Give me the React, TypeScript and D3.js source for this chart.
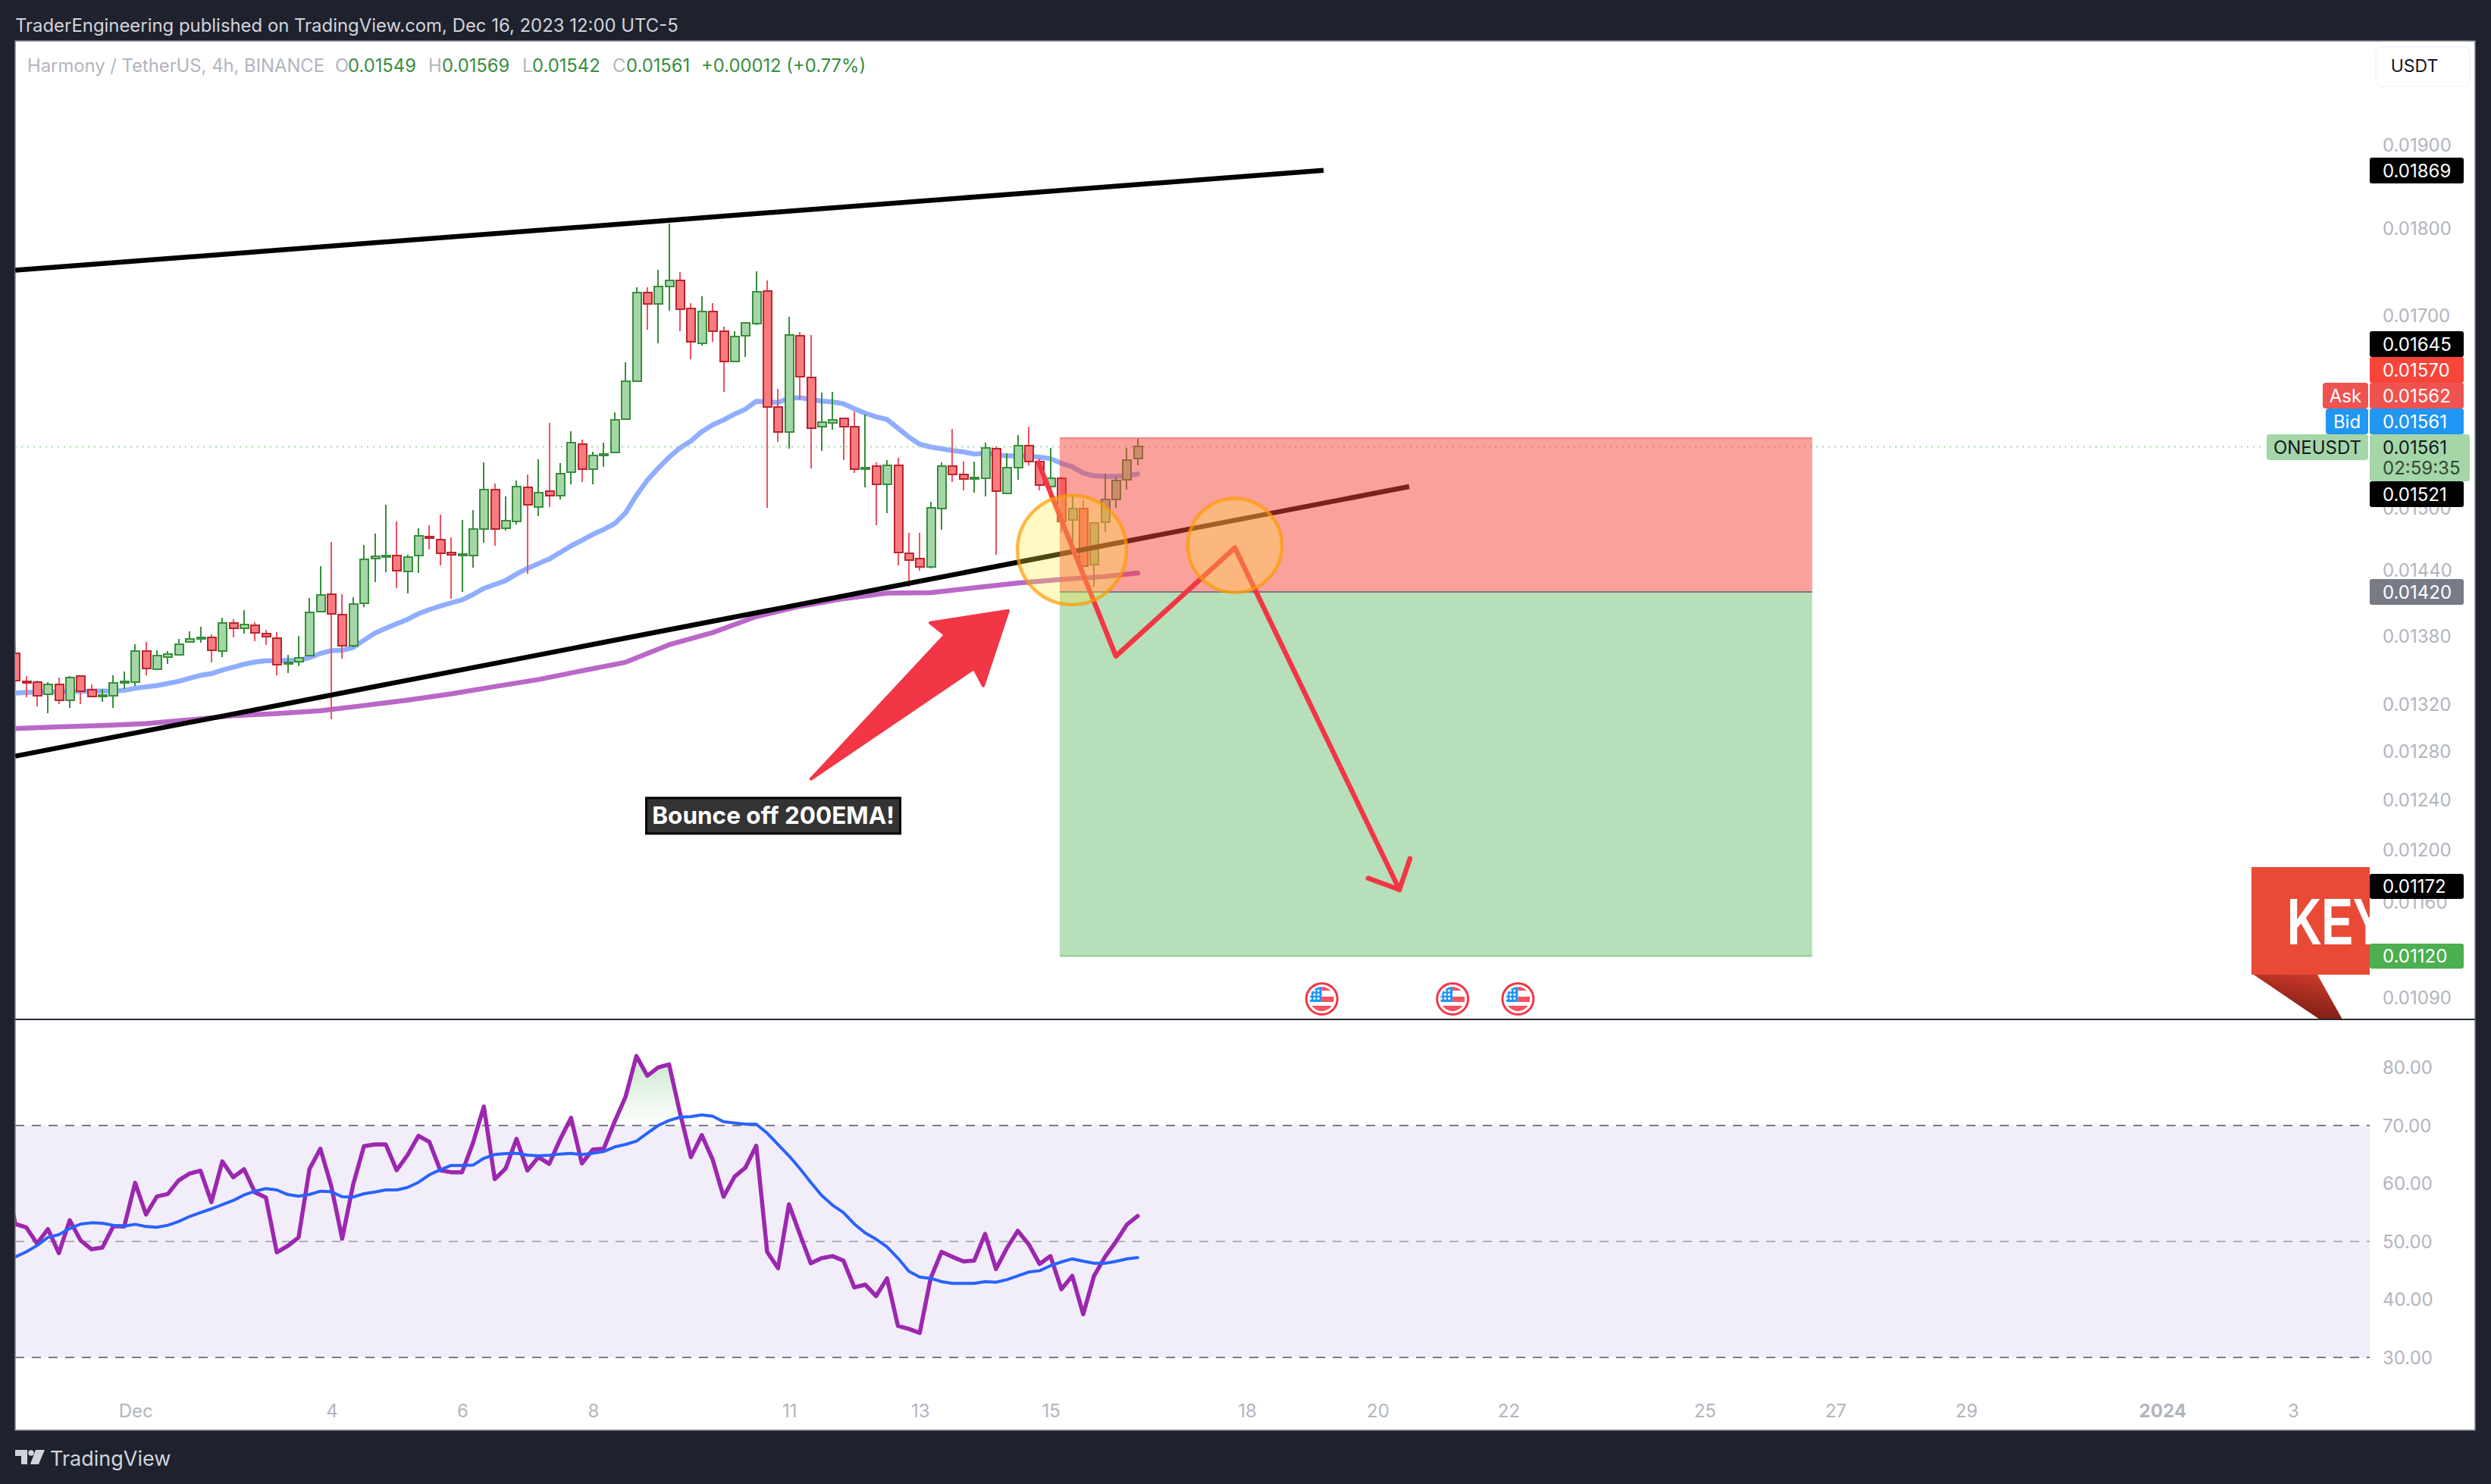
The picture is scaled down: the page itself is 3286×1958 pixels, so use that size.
import React from "react";
import * as d3 from "d3";

// ---------- data (prices in micro-USDT, bar index 0 = Dec 4 00:00, 4h bars) ----------
const FIRST_BAR = -29;
const opens = [13642,13397,13388,13285,13369,13234,13440,13321,13273,13273,13391,13391,13661,13504,13612,13633,13748,13773,13789,13667,13918,13865,13893,13817,13777,13547,13572,13624,14016,14176,13993,13708,14093,14515,14534,14538,14393,14538,14724,14696,14567,14547,14544,14797,15178,14804,14871,15199,15010,15161,15123,15355,15639,15386,15530,15549,15895,16293,17258,17133,17331,17395,17079,16700,17046,16827,16501,16783,16914,17276,16016,15762,16777,16327,15817,15856,15898,15811,15388,15412,15234,15420,14561,14510,14436,14994,15412,15328,15293,15293,15593,15145,15398,15618,15456,15210,15291,14886,14992,14452,14857,15079,15274,15490];
const highs = [13704,13443,13403,13388,13427,13443,13449,13369,13330,13449,13483,13723,13745,13670,13664,13773,13839,13880,13814,13965,13949,14032,13921,13855,13833,13630,13799,14144,14442,14670,14180,14151,14643,14750,15030,14868,14547,14801,14828,14935,14713,14881,14979,15453,15240,15113,15271,15330,15484,15854,15446,15766,15681,15562,15653,15965,16492,17322,17322,17518,18052,17494,17142,17218,17142,16881,16830,16932,17500,17398,16209,16989,16821,16788,16169,16178,15909,15971,15939,15451,15475,15500,14758,14758,15060,15453,15792,15461,15461,15651,15615,15544,15731,15814,15489,15601,15309,15121,15076,14862,15339,15309,15596,15690];
const lows = [13400,13255,13178,13121,13199,13166,13199,13261,13219,13166,13330,13357,13449,13498,13547,13633,13739,13736,13566,13609,13783,13821,13751,13717,13449,13467,13529,13618,14013,13067,13596,13695,14061,14289,14387,14234,14186,14377,14597,14449,14138,14199,14426,14666,14636,14777,14838,14367,14918,15010,15082,15230,15257,15230,15407,15544,15884,16293,16851,16700,17055,16833,16524,16671,16718,16181,16495,16547,16896,15004,15659,15588,16101,15393,15566,15786,15478,15342,15204,14828,14951,14451,14249,14400,14421,14784,15258,15174,15153,15115,14551,15142,15274,15418,15169,15190,14756,14655,14440,14250,14764,15002,15182,15420];
const closes = [13406,13388,13273,13369,13234,13427,13312,13267,13276,13385,13397,13661,13510,13621,13639,13726,13770,13789,13673,13918,13865,13899,13824,13795,13544,13566,13605,14010,14170,14000,13714,14087,14508,14531,14541,14400,14528,14727,14713,14564,14551,14554,14791,15178,14797,14878,15206,15027,15147,15120,15334,15649,15386,15520,15537,15889,16287,17258,17133,17325,17395,17076,16715,17046,16830,16498,16771,16920,17268,16022,15762,16786,16339,15800,15862,15889,15817,15385,15396,15234,15420,14571,14500,14436,14999,15412,15331,15285,15298,15596,15166,15398,15618,15461,15226,15291,14869,14992,14444,14852,15081,15269,15478,15610];

// EMA 50, one reading per bar, from FIRST_BAR
const ema50 = [13294,13300,13303,13306,13306,13309,13309,13312,13312,13312,13318,13336,13348,13360,13378,13397,13424,13449,13464,13495,13520,13547,13566,13578,13578,13581,13581,13605,13642,13667,13670,13695,13761,13824,13868,13908,13949,14000,14038,14070,14099,14128,14176,14234,14269,14305,14367,14420,14465,14508,14570,14633,14686,14743,14790,14846,14951,15123,15272,15393,15503,15598,15667,15764,15834,15884,15945,15996,16079,16073,16067,16110,16116,16101,16081,16073,16053,16002,15954,15917,15889,15800,15709,15634,15607,15590,15571,15557,15535,15544,15530,15516,15516,15516,15503,15489,15442,15407,15344,15317,15312,15312,15317,15334];
// EMA 200, read at these bars
const ema200Bars = [-29,-25,-21,-17,-13,-9,-5,-1,3,7,11,15,19,23,27,31,35,39,43,47,51,55,59,63,67,71,74];
const ema200 = [12991,13005,13017,13032,13064,13100,13118,13142,13187,13234,13288,13351,13412,13489,13564,13720,13829,13974,14068,14138,14189,14194,14239,14283,14316,14344,14377];

// RSI from bar -30, RSI MA from bar -29
const rsiFirstBar = -30;
const rsi = [62.81,53.01,52.44,49.65,52.14,48.0,53.66,50.17,48.65,48.95,52.66,52.57,60.11,54.66,57.76,58.19,60.54,61.72,62.2,56.8,63.81,61.07,62.46,58.45,57.58,48.13,49.22,50.7,62.5,65.99,59.54,50.48,59.76,66.43,66.73,66.73,62.29,64.9,68.21,67.17,62.29,61.94,61.94,66.95,73.27,60.76,62.59,67.69,62.24,64.55,63.38,67.6,71.31,63.46,65.86,65.99,70.65,74.92,81.98,78.58,80.02,80.54,72.18,64.55,68.34,64.12,57.71,61.15,62.72,66.51,48.21,45.38,56.41,51.26,46.25,47.12,47.47,46.69,42.07,42.55,40.59,43.64,35.45,34.92,34.23,43.64,48.21,47.34,46.56,46.69,51.31,45.25,48.87,51.83,49.52,46.12,47.47,41.76,44.07,37.45,44.07,47.34,49.96,52.88,54.4];
const rsiMa = [47.34,48.21,49.3,50.7,51.18,52.22,53.01,53.22,53.14,52.79,52.66,52.96,52.57,52.44,52.79,53.44,54.31,54.97,55.62,56.36,57.06,58.02,58.67,59.11,58.89,58.1,57.8,58.1,58.67,58.58,57.71,57.67,58.24,58.54,58.89,58.89,59.32,60.2,61.5,62.37,63.12,63.12,63.16,64.34,64.99,65.16,65.21,64.9,64.77,64.86,65.08,65.21,64.99,65.21,65.51,66.3,66.73,67.3,68.69,70.0,70.87,71.44,71.53,71.83,71.61,70.65,70.44,70.22,70.22,68.69,66.73,64.77,62.59,60.2,57.93,56.27,54.97,53.01,51.48,50.39,49.08,47.12,44.86,43.86,43.64,43.07,42.77,42.77,42.77,43.07,42.98,43.42,44.07,44.73,44.95,45.82,46.47,47.0,46.6,46.25,46.25,46.56,47.0,47.21];

// axes
const priceTicks = [0.019,0.018,0.017,0.015,0.0144,0.0138,0.0132,0.0128,0.0124,0.012,0.0116,0.0109];
const rsiTicks = [80,70,60,50,40,30];
const dateTicks = [["Dec",-18],["4",0],["6",12],["8",24],["11",42],["13",54],["15",66],["18",84],["20",96],["22",108],["25",126],["27",138],["29",150],["2024",168],["3",180]];

// drawings, [bar, micro-price]
const upperChannel = [[-29,17513],[91.06,18690]];
const lowerChannel = [[-29,12759],[98.92,15210]];
const zigzag = [[64.9,15447],[72,13618],[82.92,14615],[98.02,11696]];
const arrowBarbs = [[98.99,11935],[98.02,11696],[95.16,11783]];
const bigArrow = [[62.12,14028],[59.83,13358],[58.99,13511],[44.03,12571],[56.35,13808],[54.96,13917]];
const circleCentres = [[67.97,14594],[82.92,14637]];
const positionBars = [66.85,135.9];
const positionLevels = [15700,14200,11200];
const eventBars = [90.9,102.9,108.9];
const noteAnchor = [40.56,12276];

// ---------- layout ----------
const W = 3286, H = 1958;
const L = 20, R = 3265, T = 54, B = 1887, AX = 3126, SEP = 1345;
const DARK = "#1E222D", TICK = "#B2B5BE";
const GREEN_BORDER = "#388E3C", GREEN_FILL = "#A5D6A7";
const RED_BORDER = "#B9252F", RED_FILL = "#F77C80", RED_WICK = "#F2525F";
const F = "Inter, 'Noto Sans', sans-serif";

const x = d3.scaleLinear().domain([0, 100]).range([437, 437 + 1437.5]);
const y = d3.scaleLog().domain([19000, 10900]).range([191.5, 1316.5]);
const yRsi = d3.scaleLinear().domain([30, 70]).range([1791, 1485]);

const xy = d3.line<number[]>().x(d => x(d[0])).y(d => y(d[1]));
const perBar = (vals: number[], first: number) => vals.map((v, i) => [first + i, v]);
const rsiLine = d3.line<number[]>().x(d => x(d[0])).y(d => yRsi(d[1]));
const rsiPts = perBar(rsi, rsiFirstBar);
const rsiMaPts = perBar(rsiMa, FIRST_BAR);
const rsiArea = d3.area<number[]>().x(d => x(d[0])).y0(yRsi(70)).y1(d => yRsi(d[1]));

const fmt = (p: number) => (p < 1 ? p.toFixed(5) : p.toFixed(2));

function Candles() {
  const w = 11;
  return (
    <g shapeRendering="crispEdges">
      {opens.map((o, i) => {
        const c = closes[i], cx = Math.round(x(FIRST_BAR + i));
        const up = c >= o;
        const top = y(Math.max(o, c)), bot = y(Math.min(o, c));
        return (
          <g key={i}>
            <line x1={cx} x2={cx} y1={y(highs[i])} y2={y(lows[i])} stroke={up ? GREEN_BORDER : RED_WICK} strokeWidth={2} />
            <rect x={cx - w / 2} y={top} width={w} height={Math.max(bot - top, 2)}
              fill={up ? GREEN_FILL : RED_FILL} stroke={up ? GREEN_BORDER : RED_BORDER} strokeWidth={2} />
          </g>
        );
      })}
    </g>
  );
}

function EventFlag({ bar, id }: { bar: number; id: string }) {
  const cx = x(bar), cy = 1318, r = 16;
  const stars: number[][] = [];
  for (let row = 0; row < 3; row++) for (let col = 0; col < 3; col++) stars.push([cx - 15 + col * 5.2, cy - 11 + row * 5.2]);
  return (
    <g>
      <circle cx={cx} cy={cy} r={20.5} fill="#fff" stroke="#F23645" strokeWidth={3} />
      <clipPath id={id}><circle cx={cx} cy={cy} r={r} /></clipPath>
      <g clipPath={`url(#${id})`}>
        <rect x={cx - r} y={cy - r} width={2 * r} height={2 * r} fill="#fff" />
        <rect x={cx} y={cy - r} width={r} height={5} fill="#F7525F" />
        <rect x={cx} y={cy - 3} width={r} height={7} fill="#F7525F" />
        <rect x={cx - r} y={cy + 9} width={2 * r} height={7} fill="#F7525F" />
        <rect x={cx - r} y={cy - r} width={r} height={20} fill="#2196F3" />
        {stars.map((s, i) => <circle key={i} cx={s[0]} cy={s[1]} r={1.6} fill="#fff" />)}
      </g>
    </g>
  );
}

function PriceBox({ y0, h, fill, text, color = "#fff", right = 3250 }: any) {
  return (
    <g>
      <rect x={AX} y={y0} width={right - AX} height={h} rx={3} fill={fill} />
      <text x={3143} y={y0 + h / 2} dy="0.36em" fontSize={24} fill={color} fontFamily={F}>{text}</text>
    </g>
  );
}

function SideTag({ x0, y0, fill, text, color = "#fff" }: any) {
  return (
    <g>
      <rect x={x0} y={y0} width={3124 - x0} height={34} rx={4} fill={fill} />
      <text x={(x0 + 3124) / 2} y={y0 + 17} dy="0.36em" textAnchor="middle" fontSize={24} fill={color} fontFamily={F}>{text}</text>
    </g>
  );
}

export default function App() {
  const entryY = y(positionLevels[1]);
  const boxX = x(positionBars[0]);
  const boxW = x(positionBars[1]) - boxX;
  const legend = "#B2B5BE", lg = "#388E3C";
  return (
    <svg width={W} height={H} viewBox={`0 0 ${W} ${H}`} style={{ position: "fixed", left: 0, top: 0, display: "block" }}>
      <defs>
        <clipPath id="pane"><rect x={L} y={T} width={AX - L} height={SEP - T} /></clipPath>
        <clipPath id="above70"><rect x={L} y={T} width={AX - L} height={yRsi(70) - T} /></clipPath>
        <clipPath id="rsiPane"><rect x={L} y={SEP} width={AX - L} height={B - SEP} /></clipPath>
        <clipPath id="keyClip"><rect x={2970} y={1100} width={AX - 2970} height={260} /></clipPath>
        <linearGradient id="ob" gradientUnits="userSpaceOnUse" x1="0" x2="0" y1={yRsi(82)} y2={yRsi(70)}>
          <stop offset="0" stopColor="#4CAF50" stopOpacity={0.3} />
          <stop offset="1" stopColor="#4CAF50" stopOpacity={0} />
        </linearGradient>
        <linearGradient id="tail" x1="0.2" x2="0.6" y1="1" y2="0">
          <stop offset="0" stopColor="#6E1610" />
          <stop offset="1" stopColor="#C93A2A" />
        </linearGradient>
      </defs>

      <rect width={W} height={H} fill={DARK} />
      <rect x={L} y={T} width={R - L} height={B - T} fill="#fff" stroke="#80838E" strokeWidth={1.5} />

      <text x={20} y={33} dy="0.36em" fontSize={23.9} fill="#D1D4DC" fontFamily={F}>TraderEngineering published on TradingView.com, Dec 16, 2023 12:00 UTC-5</text>

      {/* main pane */}
      <g clipPath="url(#pane)">
        <path d={xy(perBar(ema50, FIRST_BAR))!} fill="none" stroke="#90AEFF" strokeWidth={6.5} strokeLinecap="round" strokeLinejoin="round" />
        <path d={xy(ema200Bars.map((b, i) => [b, ema200[i]]))!} fill="none" stroke="#BA68C8" strokeWidth={6.5} strokeLinecap="round" strokeLinejoin="round" />
        <line x1={L} x2={2985} y1={y(15610)} y2={y(15610)} stroke="#A5D6A7" strokeWidth={2} strokeDasharray="2 6" />
        <Candles />
        <path d={xy(upperChannel)!} fill="none" stroke="#000" strokeWidth={6.5} />
        <path d={xy(lowerChannel)!} fill="none" stroke="#000" strokeWidth={6.5} />

        {/* short position box */}
        <rect x={boxX} y={y(positionLevels[0])} width={boxW} height={entryY - y(positionLevels[0])} fill="#F44336" fillOpacity={0.5} />
        <rect x={boxX} y={entryY} width={boxW} height={y(positionLevels[2]) - entryY} fill="#4CAF50" fillOpacity={0.4} />
        <line x1={boxX} x2={boxX + boxW} y1={y(positionLevels[0])} y2={y(positionLevels[0])} stroke="#F44336" strokeOpacity={0.5} strokeWidth={2} />
        <line x1={boxX} x2={boxX + boxW} y1={entryY} y2={entryY} stroke="#787B86" strokeWidth={2} />
        <line x1={boxX} x2={boxX + boxW} y1={y(positionLevels[2])} y2={y(positionLevels[2])} stroke="#4CAF50" strokeOpacity={0.5} strokeWidth={2} />

        {/* hand-drawn path */}
        <path d={xy(zigzag)!} fill="none" stroke="#F23645" strokeWidth={6.5} strokeLinejoin="round" strokeLinecap="round" />
        <path d={xy(arrowBarbs)!} fill="none" stroke="#F23645" strokeWidth={6.5} strokeLinejoin="round" strokeLinecap="round" />

        {/* circles */}
        <circle cx={x(circleCentres[0][0])} cy={y(circleCentres[0][1])} r={72} fill="#FFEB3B" fillOpacity={0.3} stroke="#FF9800" strokeOpacity={0.7} strokeWidth={4.5} />
        <circle cx={x(circleCentres[1][0])} cy={y(circleCentres[1][1])} r={62} fill="#FFEB3B" fillOpacity={0.3} stroke="#FF9800" strokeOpacity={0.7} strokeWidth={4.5} />

        {/* big arrow */}
        <path d={xy(bigArrow)! + "Z"} fill="#F23645" stroke="#F23645" strokeWidth={4} strokeLinejoin="round" />

        {eventBars.map((b, i) => <EventFlag key={i} bar={b} id={`flag${i}`} />)}
      </g>

      {/* note */}
      <g>
        <rect x={x(noteAnchor[0]) - 167.5} y={y(noteAnchor[1]) - 23} width={335} height={47} fill="#333" stroke="#000" strokeWidth={3} />
        <text x={x(noteAnchor[0])} y={y(noteAnchor[1])} dy="0.36em" textAnchor="middle" fontSize={31.5} fontWeight={700} fill="#fff" fontFamily={F}>Bounce off 200EMA!</text>
      </g>

      {/* legend */}
      <g fontFamily={F} fontSize={23.8}>
        <text x={36} y={86} dy="0.36em" fill={legend}>Harmony / TetherUS, 4h, BINANCE</text>
        <text x={442} y={86} dy="0.36em" fill={legend}>O</text>
        <text x={459} y={86} dy="0.36em" fill={lg}>0.01549</text>
        <text x={565} y={86} dy="0.36em" fill={legend}>H</text>
        <text x={583} y={86} dy="0.36em" fill={lg}>0.01569</text>
        <text x={689} y={86} dy="0.36em" fill={legend}>L</text>
        <text x={702} y={86} dy="0.36em" fill={lg}>0.01542</text>
        <text x={808} y={86} dy="0.36em" fill={legend}>C</text>
        <text x={826} y={86} dy="0.36em" fill={lg}>0.01561</text>
        <text x={925} y={86} dy="0.36em" fill={lg}>+0.00012 (+0.77%)</text>
      </g>

      {/* USDT button */}
      <rect x={3134} y={62} width={124} height={52} rx={8} fill="#fff" stroke="#F0F3FA" strokeWidth={1.5} />
      <text x={3185} y={87} dy="0.36em" textAnchor="middle" fontSize={23} fill="#131722" fontFamily={F}>USDT</text>

      {/* price axis */}
      <g fontFamily={F} fontSize={24} fill={TICK}>
        {priceTicks.map(t => <text key={t} x={3143} y={y(t * 1e6)} dy="0.36em">{fmt(t)}</text>)}
      </g>

      {/* KEY banner */}
      <g clipPath="url(#keyClip)">
        <polygon points="2973,1286 3057,1286 3090,1345 3060,1345" fill="url(#tail)" />
        <rect x={2970} y={1144} width={AX - 2970} height={142} fill="#E94A36" />
        <text transform="translate(3017,1246) scale(0.72,1)" fontFamily="'Liberation Sans', Arial, sans-serif" fontWeight={700} fontSize={87} fill="#fff">KEY</text>
      </g>

      {/* price labels */}
      <PriceBox y0={208} h={34} fill="#000" text="0.01869" />
      <PriceBox y0={437} h={34} fill="#000" text="0.01645" />
      <PriceBox y0={471} h={34} fill="#F74639" text="0.01570" />
      <PriceBox y0={505} h={34} fill="#EF5350" text="0.01562" />
      <PriceBox y0={539} h={34} fill="#2196F3" text="0.01561" />
      <SideTag x0={3064} y0={505} fill="#EF5350" text="Ask" />
      <SideTag x0={3068} y0={539} fill="#2196F3" text="Bid" />
      <SideTag x0={2990} y0={573} fill="#A5D6A7" text="ONEUSDT" color="#131722" />
      <g>
        <rect x={AX} y={573} width={132} height={62} rx={4} fill="#A5D6A7" />
        <text x={3143} y={590} dy="0.36em" fontSize={24} fill="#131722" fontFamily={F}>0.01561</text>
        <text x={3143} y={617} dy="0.36em" fontSize={24} fill="#2F4A33" fontFamily={F}>02:59:35</text>
      </g>
      <PriceBox y0={635} h={34} fill="#000" text="0.01521" />
      <PriceBox y0={764} h={34} fill="#787B86" text="0.01420" />
      <PriceBox y0={1153} h={33} fill="#000" text="0.01172" />
      <PriceBox y0={1245} h={33} fill="#4CAF50" text="0.01120" />

      {/* separator */}
      <line x1={L} x2={R} y1={SEP} y2={SEP} stroke="#2A2E39" strokeWidth={2} />

      {/* RSI pane */}
      <rect x={L} y={yRsi(70)} width={AX - L} height={yRsi(30) - yRsi(70)} fill="#7E57C2" fillOpacity={0.1} />
      <g stroke="#787B86" strokeWidth={2} strokeDasharray="12 10">
        <line x1={L} x2={AX} y1={yRsi(70)} y2={yRsi(70)} />
        <line x1={L} x2={AX} y1={yRsi(50)} y2={yRsi(50)} strokeOpacity={0.55} />
        <line x1={L} x2={AX} y1={yRsi(30)} y2={yRsi(30)} />
      </g>
      <g clipPath="url(#above70)">
        <path d={rsiArea(rsiPts)!} fill="url(#ob)" />
      </g>
      <g clipPath="url(#rsiPane)">
        <path d={rsiLine(rsiPts)!} fill="none" stroke="#9C27B0" strokeWidth={5.5} strokeLinejoin="round" strokeLinecap="round" />
        <path d={rsiLine(rsiMaPts)!} fill="none" stroke="#2962FF" strokeWidth={4} strokeLinejoin="round" strokeLinecap="round" />
      </g>
      <g fontFamily={F} fontSize={24} fill={TICK}>
        {rsiTicks.map(t => <text key={t} x={3143} y={yRsi(t)} dy="0.36em">{t.toFixed(2)}</text>)}
      </g>

      {/* time axis */}
      <g fontFamily={F} fontSize={24} fill={TICK} textAnchor="middle">
        {dateTicks.map(([label, bar]) => (
          <text key={label as string} x={x(bar as number) + 1} y={1861} dy="0.36em" fontWeight={label === "2024" ? 700 : 400}>{label}</text>
        ))}
      </g>

      {/* footer */}
      <g fill="#D1D4DC">
        <polygon points="20,1913 36,1913 36,1932 28,1932 28,1921 20,1921" />
        <circle cx={41} cy={1917} r={3.8} />
        <polygon points="47,1913 59,1913 51,1932 40,1932" />
        <text x={66} y={1924} dy="0.36em" fontSize={27} fontFamily={F}>TradingView</text>
      </g>
    </svg>
  );
}
